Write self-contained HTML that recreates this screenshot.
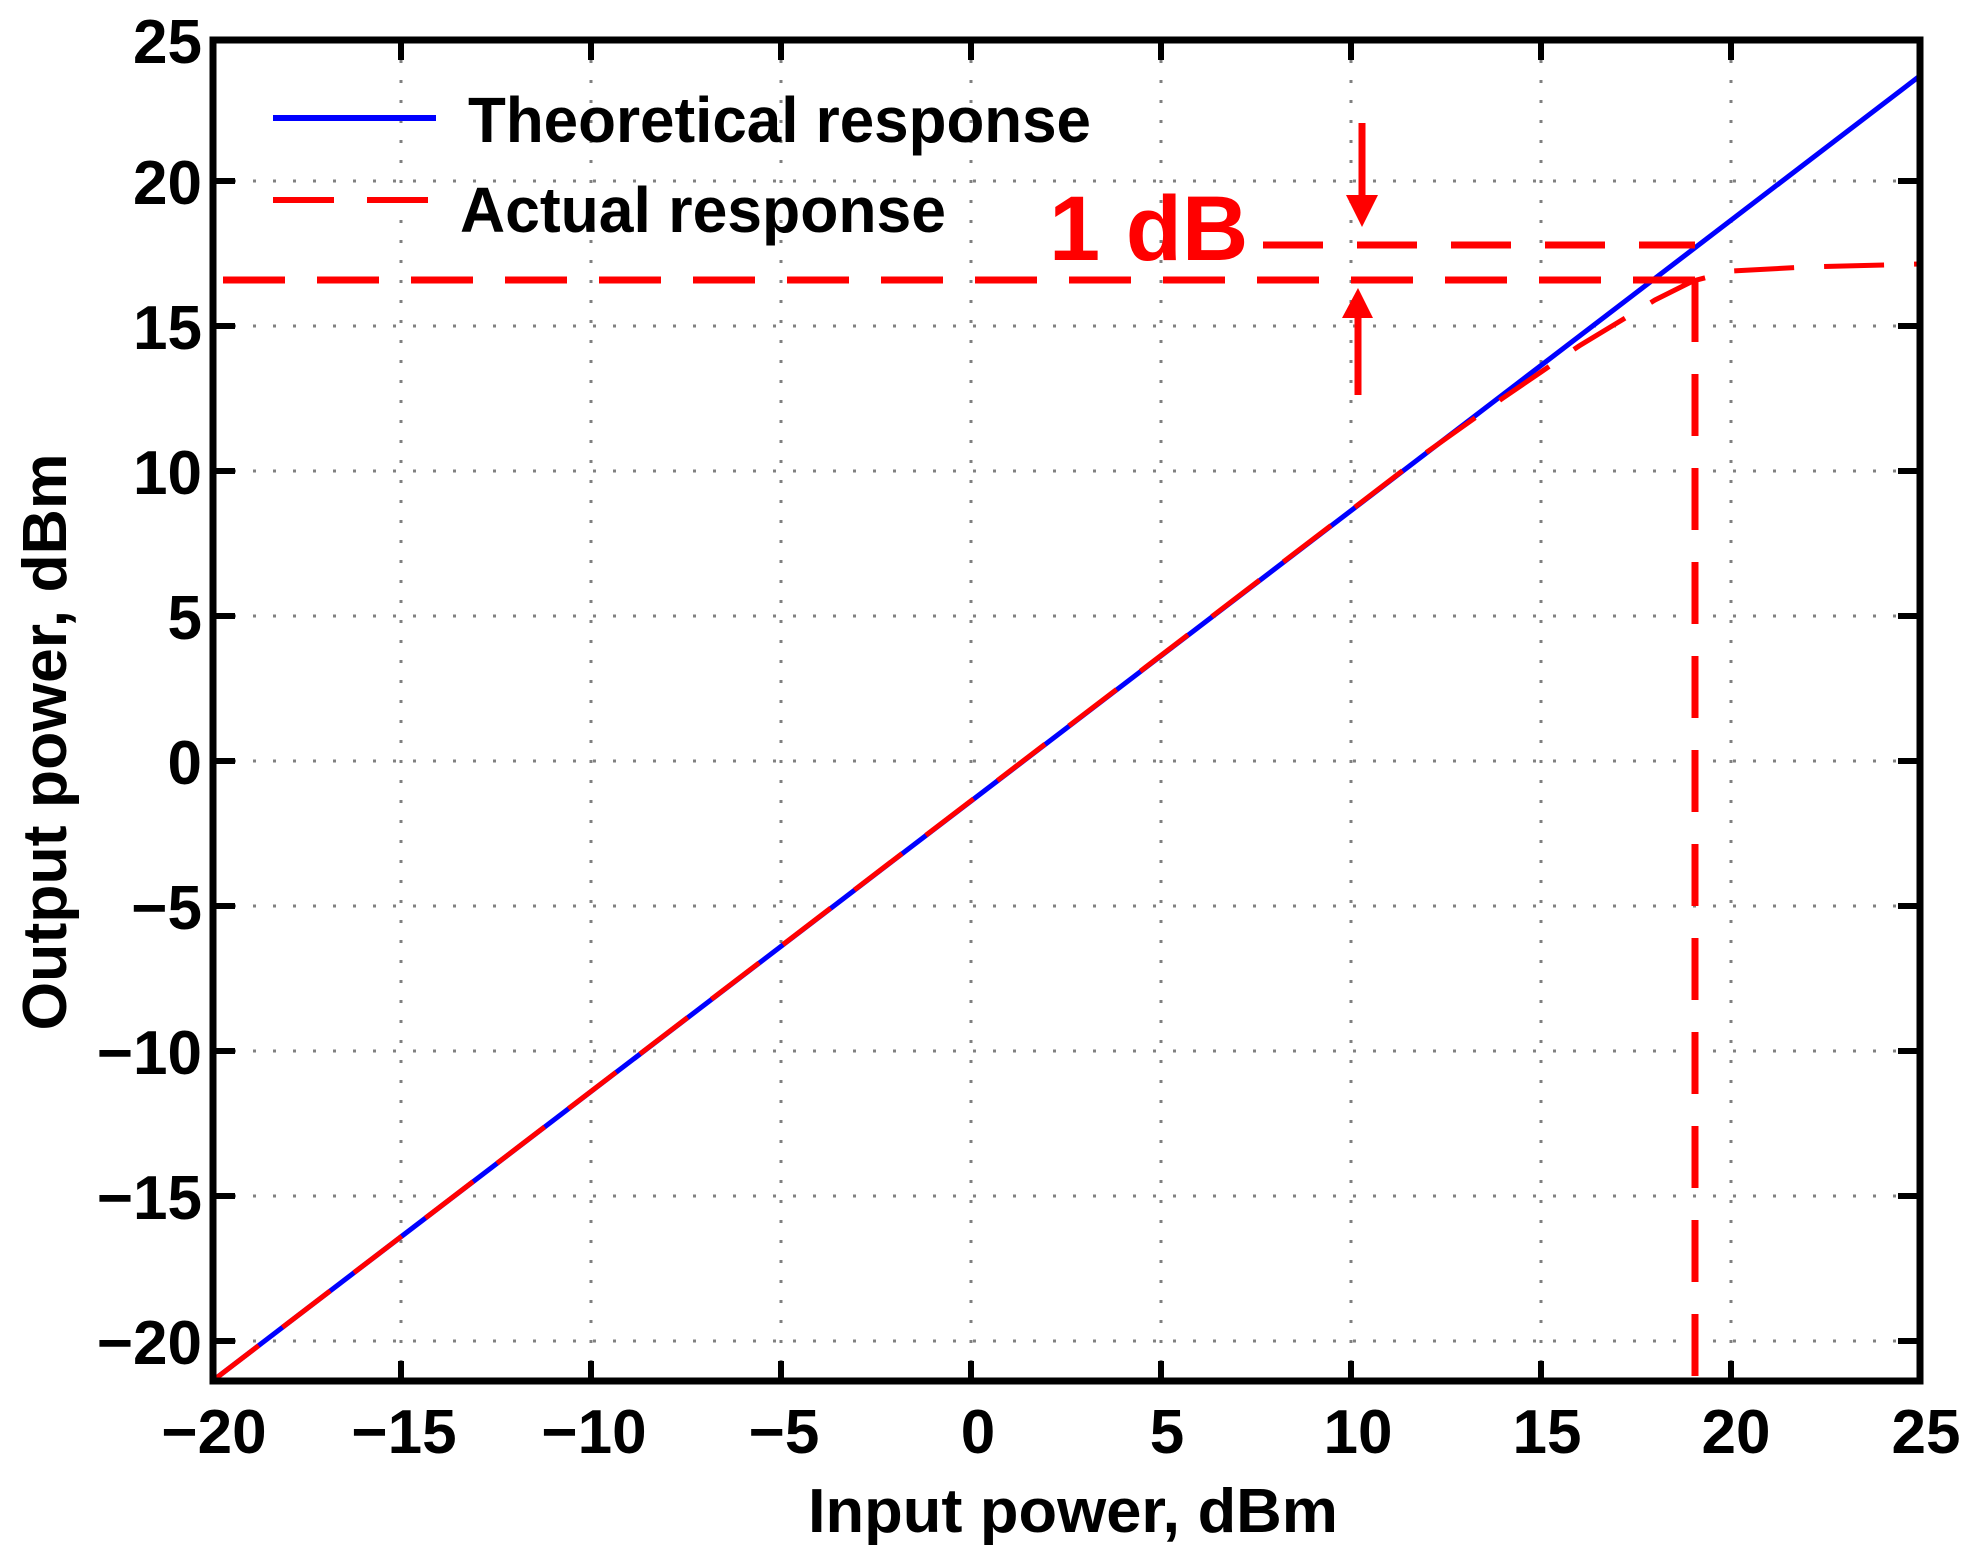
<!DOCTYPE html>
<html><head><meta charset="utf-8"><style>
html,body{margin:0;padding:0;background:#fff;}
svg{display:block;}
text{font-family:"Liberation Sans",Arial,sans-serif;font-weight:bold;}
</style></head><body>
<svg width="1981" height="1546" viewBox="0 0 1981 1546" xmlns="http://www.w3.org/2000/svg">
<defs><clipPath id="c"><rect x="213" y="40" width="1707" height="1341"/></clipPath></defs>
<rect width="1981" height="1546" fill="#fff"/>
<!-- grid -->
<g stroke="#808080" stroke-width="3" stroke-dasharray="3 17" fill="none">
<line x1="401" y1="40" x2="401" y2="1381"/><line x1="591" y1="40" x2="591" y2="1381"/>
<line x1="781" y1="40" x2="781" y2="1381"/><line x1="971" y1="40" x2="971" y2="1381"/>
<line x1="1161" y1="40" x2="1161" y2="1381"/><line x1="1351" y1="40" x2="1351" y2="1381"/>
<line x1="1541" y1="40" x2="1541" y2="1381"/><line x1="1731" y1="40" x2="1731" y2="1381"/>
<line x1="213" y1="181" x2="1920" y2="181"/><line x1="213" y1="326" x2="1920" y2="326"/>
<line x1="213" y1="471" x2="1920" y2="471"/><line x1="213" y1="616" x2="1920" y2="616"/>
<line x1="213" y1="761" x2="1920" y2="761"/><line x1="213" y1="906" x2="1920" y2="906"/>
<line x1="213" y1="1051" x2="1920" y2="1051"/><line x1="213" y1="1196" x2="1920" y2="1196"/>
<line x1="213" y1="1341" x2="1920" y2="1341"/>
</g>
<g clip-path="url(#c)">
<!-- theoretical -->
<polyline fill="none" stroke="#0000ff" stroke-width="5" points="211,1382 1921,75"/>
<!-- actual -->
<polyline fill="none" stroke="#ff0000" stroke-width="5" stroke-dasharray="60 30" points="211,1382 1427,452 1465,425 1503,398 1541,372 1579,346 1617,323 1655,300 1693,281 1731,271 1807,267 1921,264"/>
</g>
<!-- annotation dashed lines -->
<g stroke="#ff0000" stroke-width="7" fill="none">
<line x1="223" y1="280" x2="1695" y2="280" stroke-dasharray="62 32"/>
<line x1="1263" y1="245" x2="1695" y2="245" stroke-dasharray="60 34"/>
<line x1="1695" y1="280" x2="1695" y2="1381" stroke-dasharray="62 32"/>
<line x1="1362" y1="123" x2="1362" y2="200"/>
<line x1="1358" y1="315" x2="1358" y2="395"/>
</g>
<polygon points="1346,195 1378,195 1362,227" fill="#ff0000"/>
<polygon points="1342,318 1373,318 1358,288" fill="#ff0000"/>
<text x="1049" y="260" font-size="92" fill="#ff0000">1 dB</text>
<!-- axes box -->
<rect x="213" y="40" width="1707" height="1341" fill="none" stroke="#000" stroke-width="7"/>
<!-- ticks -->
<g stroke="#000" stroke-width="6">
<line x1="401" y1="1381" x2="401" y2="1361"/><line x1="591" y1="1381" x2="591" y2="1361"/>
<line x1="781" y1="1381" x2="781" y2="1361"/><line x1="971" y1="1381" x2="971" y2="1361"/>
<line x1="1161" y1="1381" x2="1161" y2="1361"/><line x1="1351" y1="1381" x2="1351" y2="1361"/>
<line x1="1541" y1="1381" x2="1541" y2="1361"/><line x1="1731" y1="1381" x2="1731" y2="1361"/>
<line x1="401" y1="40" x2="401" y2="60"/><line x1="591" y1="40" x2="591" y2="60"/>
<line x1="781" y1="40" x2="781" y2="60"/><line x1="971" y1="40" x2="971" y2="60"/>
<line x1="1161" y1="40" x2="1161" y2="60"/><line x1="1351" y1="40" x2="1351" y2="60"/>
<line x1="1541" y1="40" x2="1541" y2="60"/><line x1="1731" y1="40" x2="1731" y2="60"/>
<line x1="213" y1="181" x2="235" y2="181"/><line x1="213" y1="326" x2="235" y2="326"/>
<line x1="213" y1="471" x2="235" y2="471"/><line x1="213" y1="616" x2="235" y2="616"/>
<line x1="213" y1="761" x2="235" y2="761"/><line x1="213" y1="906" x2="235" y2="906"/>
<line x1="213" y1="1051" x2="235" y2="1051"/><line x1="213" y1="1196" x2="235" y2="1196"/>
<line x1="213" y1="1341" x2="235" y2="1341"/>
<line x1="1920" y1="181" x2="1898" y2="181"/><line x1="1920" y1="326" x2="1898" y2="326"/>
<line x1="1920" y1="471" x2="1898" y2="471"/><line x1="1920" y1="616" x2="1898" y2="616"/>
<line x1="1920" y1="761" x2="1898" y2="761"/><line x1="1920" y1="906" x2="1898" y2="906"/>
<line x1="1920" y1="1051" x2="1898" y2="1051"/><line x1="1920" y1="1196" x2="1898" y2="1196"/>
<line x1="1920" y1="1341" x2="1898" y2="1341"/>
</g>
<!-- y labels -->
<g font-size="62" text-anchor="end" fill="#000">
<text x="202" y="63">25</text><text x="202" y="204">20</text><text x="202" y="349">15</text>
<text x="202" y="494">10</text><text x="202" y="639">5</text><text x="202" y="784">0</text>
<text x="202" y="929">−5</text><text x="202" y="1074">−10</text><text x="202" y="1219">−15</text>
<text x="202" y="1364">−20</text>
</g>
<!-- x labels -->
<g font-size="62" text-anchor="middle" fill="#000">
<text x="214" y="1453">−20</text><text x="404" y="1453">−15</text><text x="594" y="1453">−10</text>
<text x="784" y="1453">−5</text><text x="978" y="1453">0</text><text x="1167" y="1453">5</text>
<text x="1358" y="1453">10</text><text x="1547" y="1453">15</text><text x="1736" y="1453">20</text>
<text x="1926" y="1453">25</text>
</g>
<text x="1073" y="1532" font-size="62" text-anchor="middle" textLength="530" lengthAdjust="spacingAndGlyphs">Input power, dBm</text>
<text transform="translate(66,742) rotate(-90)" font-size="62" text-anchor="middle" textLength="577" lengthAdjust="spacingAndGlyphs">Output power, dBm</text>
<!-- legend -->
<line x1="273" y1="118" x2="436" y2="118" stroke="#0000ff" stroke-width="6"/>
<line x1="273" y1="200" x2="334" y2="200" stroke="#ff0000" stroke-width="6"/>
<line x1="367" y1="200" x2="428" y2="200" stroke="#ff0000" stroke-width="6"/>
<text x="468" y="142" font-size="64" textLength="623" lengthAdjust="spacingAndGlyphs">Theoretical response</text>
<text x="460" y="232" font-size="64" textLength="486" lengthAdjust="spacingAndGlyphs">Actual response</text>
</svg>
</body></html>
